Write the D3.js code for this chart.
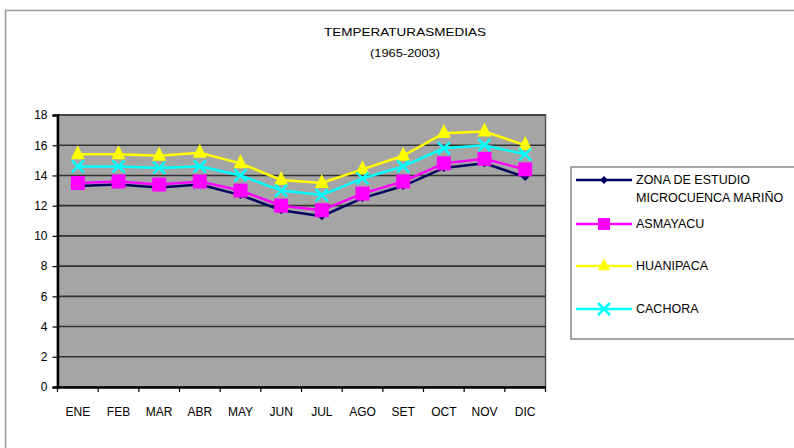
<!DOCTYPE html>
<html>
<head>
  <meta charset="utf-8">
  <script src="https://d3js.org/d3.v7.min.js"></script>
  <style>
    body { margin: 0; background: #fff; }
    text { font-family: "Liberation Sans", Arial, sans-serif; fill: #000; }
  </style>
</head>
<body>
  <svg id="chart" width="794" height="448"></svg>
  <script>
    // datos
    const meses = ["ENE", "FEB", "MAR", "ABR", "MAY", "JUN", "JUL", "AGO", "SET", "OCT", "NOV", "DIC"];
    const zonaEstudio = [13.3, 13.4, 13.2, 13.4, 12.7, 11.7, 11.3, 12.5, 13.3, 14.5, 14.8, 13.9];
    const asmayacu = [13.5, 13.6, 13.4, 13.6, 13.0, 12.0, 11.7, 12.8, 13.6, 14.8, 15.1, 14.4];
    const huanipaca = [15.4, 15.4, 15.3, 15.5, 14.8, 13.7, 13.5, 14.4, 15.3, 16.8, 16.9, 16.0];
    const cachora = [14.6, 14.6, 14.5, 14.6, 14.0, 13.0, 12.7, 13.8, 14.6, 15.8, 16.0, 15.4];
    const yTicks = [0, 2, 4, 6, 8, 10, 12, 14, 16, 18];

    const series = [
      { name: ["ZONA DE ESTUDIO", "MICROCUENCA MARIÑO"], values: zonaEstudio, color: "#000060", marker: "diamond" },
      { name: ["ASMAYACU"], values: asmayacu, color: "#ff00ff", marker: "square" },
      { name: ["HUANIPACA"], values: huanipaca, color: "#ffff00", marker: "triangle" },
      { name: ["CACHORA"], values: cachora, color: "#00ffff", marker: "x" }
    ];

    const svg = d3.select("#chart");

    // marco exterior
    svg.append("rect")
      .attr("x", 5.5).attr("y", 10.5)
      .attr("width", 800).attr("height", 450)
      .attr("fill", "#fff").attr("stroke", "#999").attr("stroke-width", 1.5);

    // titulo
    svg.append("text").attr("x", 405).attr("y", 36)
      .attr("text-anchor", "middle").attr("font-size", 11.5)
      .attr("textLength", 162).attr("lengthAdjust", "spacingAndGlyphs")
      .text("TEMPERATURASMEDIAS");
    svg.append("text").attr("x", 405).attr("y", 57)
      .attr("text-anchor", "middle").attr("font-size", 11.5)
      .attr("textLength", 70).attr("lengthAdjust", "spacingAndGlyphs")
      .text("(1965-2003)");

    const plot = { left: 57.5, right: 545.5, top: 115, bottom: 387 };

    const x = d3.scaleBand().domain(meses).range([plot.left, plot.right]);
    const y = d3.scaleLinear().domain([0, 18]).range([plot.bottom, plot.top]);

    // fondo gris
    svg.append("rect")
      .attr("x", plot.left).attr("y", plot.top)
      .attr("width", plot.right - plot.left).attr("height", plot.bottom - plot.top)
      .attr("fill", "#a5a5a5").attr("stroke", "#555").attr("stroke-width", 1.5);

    // lineas de cuadricula
    svg.append("g").selectAll("line")
      .data(yTicks.filter(d => d > 0))
      .join("line")
      .attr("x1", plot.left).attr("x2", plot.right)
      .attr("y1", d => y(d)).attr("y2", d => y(d))
      .attr("stroke", "#333").attr("stroke-width", 1.6);

    // eje Y
    const yAxis = svg.append("g")
      .attr("transform", `translate(${plot.left},0)`)
      .call(d3.axisLeft(y).tickValues(yTicks).tickSize(5).tickPadding(5));
    yAxis.select(".domain").attr("stroke", "#000").attr("stroke-width", 2.5);
    yAxis.selectAll(".tick line").attr("stroke", "#000").attr("stroke-width", 1.2);
    yAxis.selectAll("text").attr("font-size", 12).attr("fill", "#000")
      .attr("font-family", "Liberation Sans, Arial, sans-serif");

    // eje X con marcas entre categorias
    const xAxis = svg.append("g")
      .attr("transform", `translate(0,${plot.bottom})`)
      .call(d3.axisBottom(x).tickSize(0).tickPadding(20));
    xAxis.select(".domain").attr("stroke", "#000").attr("stroke-width", 2.5);
    xAxis.selectAll("text").attr("font-size", 12).attr("fill", "#000")
      .attr("font-family", "Liberation Sans, Arial, sans-serif");
    xAxis.selectAll(".sep")
      .data(d3.range(meses.length + 1))
      .join("line")
      .attr("class", "sep")
      .attr("x1", i => plot.left + i * x.step()).attr("x2", i => plot.left + i * x.step())
      .attr("y1", 0).attr("y2", 5)
      .attr("stroke", "#000").attr("stroke-width", 1.2);

    const cx = d => x(d) + x.bandwidth() / 2;

    function drawMarker(g, type, color, px, py, s) {
      if (type === "diamond") {
        g.append("path")
          .attr("d", `M${px},${py - s}L${px + s},${py}L${px},${py + s}L${px - s},${py}Z`)
          .attr("fill", color);
      } else if (type === "square") {
        g.append("rect").attr("x", px - s).attr("y", py - s)
          .attr("width", 2 * s).attr("height", 2 * s).attr("fill", color);
      } else if (type === "triangle") {
        g.append("path")
          .attr("d", `M${px},${py - s * 1.3}L${px + s},${py + s * 0.7}L${px - s},${py + s * 0.7}Z`)
          .attr("fill", color);
      } else {
        g.append("path")
          .attr("d", `M${px - s},${py - s}L${px + s},${py + s}M${px + s},${py - s}L${px - s},${py + s}`)
          .attr("stroke", color).attr("stroke-width", 2.5).attr("fill", "none");
      }
    }

    const markerSize = { diamond: 4, square: 7, triangle: 7, x: 6 };

    const line = d3.line().x((d, i) => cx(meses[i])).y(d => y(d));

    series.forEach(s => {
      const g = svg.append("g");
      g.append("path")
        .attr("d", line(s.values))
        .attr("fill", "none").attr("stroke", s.color).attr("stroke-width", 2.5);
      s.values.forEach((v, i) => drawMarker(g, s.marker, s.color, cx(meses[i]), y(v), markerSize[s.marker]));
    });

    // leyenda
    const legend = svg.append("g");
    legend.append("rect")
      .attr("x", 571).attr("y", 167).attr("width", 260).attr("height", 172)
      .attr("fill", "#fff").attr("stroke", "#888").attr("stroke-width", 1.5);

    const legendY = [180, 224, 266, 309];
    series.forEach((s, i) => {
      const ly = legendY[i];
      legend.append("line")
        .attr("x1", 576).attr("x2", 632).attr("y1", ly).attr("y2", ly)
        .attr("stroke", s.color).attr("stroke-width", 2.5);
      drawMarker(legend, s.marker, s.color, 604, ly, s.marker === "diamond" ? 4 : 6);
      s.name.forEach((t, j) => {
        legend.append("text")
          .attr("x", 636).attr("y", ly + 4 + j * 18)
          .attr("font-size", 12.5)
          .text(t);
      });
    });
  </script>
</body>
</html>
